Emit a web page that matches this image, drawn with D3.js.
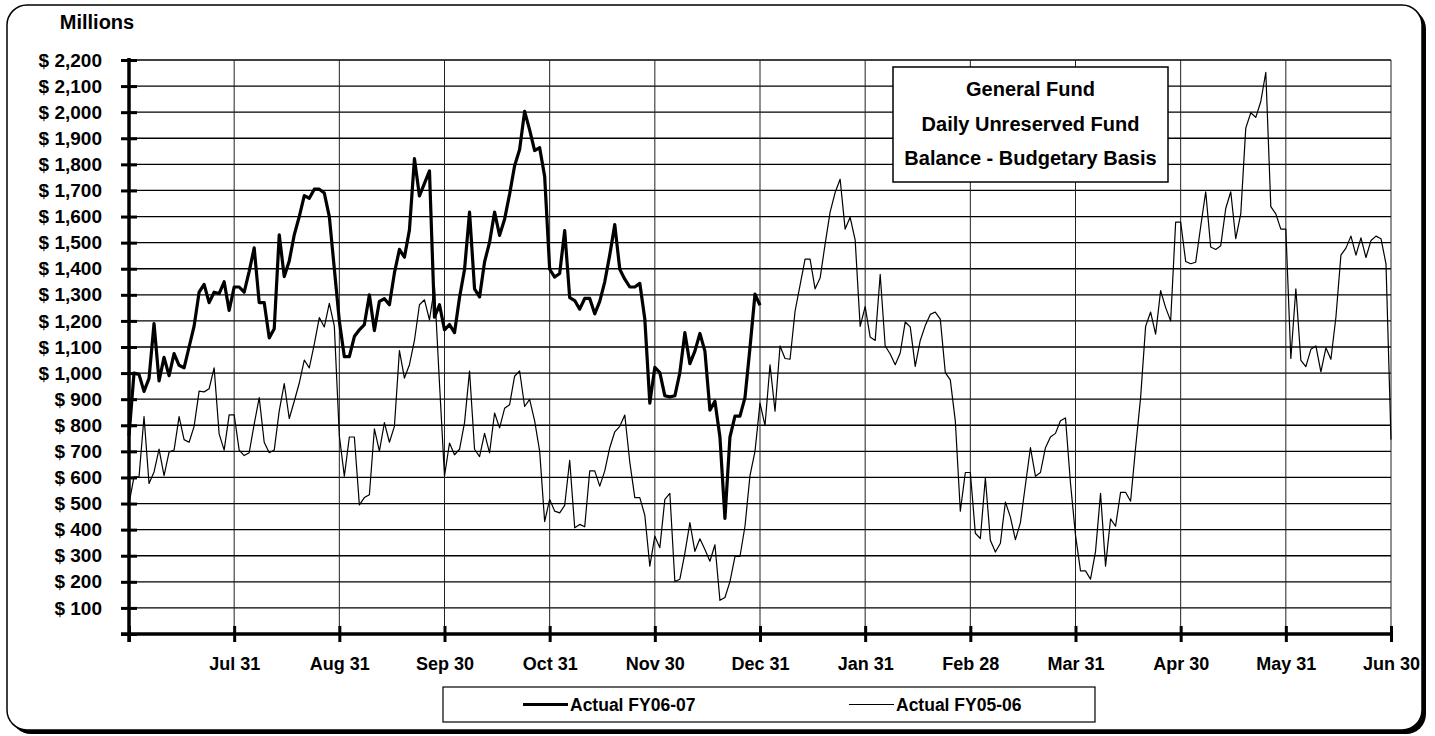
<!DOCTYPE html>
<html>
<head>
<meta charset="utf-8">
<script src="https://cdn.jsdelivr.net/npm/d3@7"></script>
<style>
  body { margin: 0; background: #fff; }
  text { font-family: "Liberation Sans Narrow", "Arial Narrow", "Liberation Sans", Arial, sans-serif; font-weight: bold; fill: #000; }
</style>
</head>
<body>
<div id="wrapper"></div>
<script>
// month-end labels, one tick every 21 business days
const monthLabels = ["", "Jul 31", "Aug 31", "Sep 30", "Oct 31", "Nov 30", "Dec 31",
  "Jan 31", "Feb 28", "Mar 31", "Apr 30", "May 31", "Jun 30"]
const daysPerMonth = 21

const yTicks = d3.range(0, 2201, 100)

const titleLines = ["General Fund", "Daily Unreserved Fund", "Balance - Budgetary Basis"]
const seriesNames = ["Actual FY06-07", "Actual FY05-06"]

// daily balances, $ millions
const fy0607 = [
  760, 1000, 995, 930, 980, 1190, 970, 1060, 990, 1075, 1030, 1020, 1100, 1180, 1310, 1340, 1270, 1310, 1305, 1350, 1240, 1330, // jul
  1330, 1310, 1390, 1480, 1270, 1270, 1135, 1170, 1530, 1370, 1430, 1530, 1600, 1680, 1670, 1705, 1705, 1690, 1600, 1400, 1200, // aug
  1063, 1063, 1140, 1166, 1186, 1300, 1163, 1275, 1285, 1262, 1384, 1474, 1444, 1549, 1822, 1679, 1727, 1775, 1214, 1262, 1166, // sep
  1186, 1155, 1290, 1397, 1617, 1323, 1292, 1426, 1501, 1617, 1528, 1590, 1686, 1795, 1857, 2003, 1932, 1853, 1864, 1754, 1398, // oct
  1368, 1382, 1546, 1289, 1278, 1245, 1286, 1286, 1227, 1275, 1350, 1453, 1569, 1398, 1360, 1330, 1330, 1344, 1207, 885, 1022, // nov
  1002, 913, 909, 913, 1002, 1155, 1036, 1084, 1152, 1084, 858, 892, 755, 443, 755, 835, 835, 906, 1097, 1303, 1260 // dec
]

const fy0506 = [
  500, 602, 602, 833, 577, 621, 709, 607, 697, 705, 833, 745, 735, 796, 931, 928, 940, 1020, 767, 705, 840, 840, // jul
  705, 684, 695, 804, 906, 735, 695, 705, 855, 960, 826, 892, 962, 1050, 1020, 1111, 1213, 1177, 1267, 1180, 760, // aug
  605, 755, 755, 495, 523, 534, 786, 701, 810, 735, 796, 1086, 981, 1032, 1125, 1262, 1281, 1204, 1330, 960, 605, // sep
  732, 687, 708, 810, 1008, 708, 680, 769, 694, 847, 790, 865, 879, 988, 1008, 872, 899, 817, 701, 431, 516, // oct
  471, 464, 493, 666, 407, 420, 411, 625, 625, 567, 625, 714, 775, 796, 839, 659, 523, 523, 455, 260, 375, // nov
  331, 516, 539, 201, 210, 310, 427, 317, 365, 324, 279, 342, 129, 140, 201, 297, 297, 413, 607, 700, 885, // dec
  799, 1032, 854, 1104, 1056, 1053, 1237, 1337, 1437, 1437, 1323, 1364, 1494, 1617, 1692, 1743, 1552, 1597, 1511, 1179, 1255, // jan
  1138, 1125, 1378, 1104, 1073, 1032, 1077, 1196, 1177, 1026, 1125, 1182, 1225, 1234, 1207, 1002, 974, 817, 471, 619, 619, // feb
  386, 366, 598, 359, 314, 348, 506, 448, 362, 427, 571, 714, 605, 619, 714, 755, 769, 817, 828, 578, 379, // mar
  242, 242, 210, 317, 539, 260, 441, 413, 543, 543, 509, 714, 906, 1179, 1234, 1149, 1316, 1251, 1200, 1579, 1579, // apr
  1428, 1419, 1425, 1562, 1695, 1483, 1474, 1488, 1631, 1695, 1515, 1610, 1939, 1998, 1980, 2041, 2153, 1638, 1610, 1552, 1552, // may
  1056, 1323, 1049, 1025, 1091, 1104, 1005, 1097, 1053, 1214, 1452, 1479, 1525, 1452, 1518, 1443, 1508, 1525, 1515, 1419, 745 // jun
]

function drawChart() {
  const xAccessor = (d, i) => i
  const yAccessor = d => d

  let dimensions = {
    width: 1435,
    height: 736,
    margin: { top: 60, right: 44, bottom: 102, left: 129 },
  }
  dimensions.boundedWidth = dimensions.width - dimensions.margin.left - dimensions.margin.right
  dimensions.boundedHeight = dimensions.height - dimensions.margin.top - dimensions.margin.bottom

  const wrapper = d3.select("#wrapper")
    .append("svg")
      .attr("width", dimensions.width)
      .attr("height", dimensions.height)

  // frame with drop shadow
  wrapper.append("rect")
      .attr("x", 11).attr("y", 9)
      .attr("width", 1415).attr("height", 725)
      .attr("rx", 20)
      .attr("fill", "#000")
  wrapper.append("rect")
      .attr("x", 7).attr("y", 5)
      .attr("width", 1415).attr("height", 725)
      .attr("rx", 20)
      .attr("fill", "#fff")
      .attr("stroke", "#000")
      .attr("stroke-width", 1.5)

  const bounds = wrapper.append("g")
      .attr("transform", `translate(${dimensions.margin.left}, ${dimensions.margin.top})`)

  const nDays = daysPerMonth * 12
  const xScale = d3.scaleLinear()
      .domain([0, nDays])
      .range([0, dimensions.boundedWidth])

  const yScale = d3.scaleLinear()
      .domain([0, 2200])
      .range([dimensions.boundedHeight, 0])

  // gridlines
  bounds.append("g")
    .selectAll("line")
    .data(yTicks.filter(d => d > 0))
    .join("line")
      .attr("x1", 0)
      .attr("x2", dimensions.boundedWidth)
      .attr("y1", d => yScale(d))
      .attr("y2", d => yScale(d))
      .attr("stroke", "#000")
      .attr("stroke-width", 1.3)

  const monthTicks = monthLabels.map((d, i) => i * daysPerMonth)
  bounds.append("g")
    .selectAll("line")
    .data(monthTicks.filter(d => d > 0))
    .join("line")
      .attr("x1", d => xScale(d))
      .attr("x2", d => xScale(d))
      .attr("y1", 0)
      .attr("y2", dimensions.boundedHeight)
      .attr("stroke", "#222")
      .attr("stroke-width", 1)

  // axes
  const yAxisGenerator = d3.axisLeft(yScale)
      .tickValues(yTicks)
      .tickSize(8)
      .tickPadding(19)
      .tickFormat(d => d === 0 ? "" : "$ " + d3.format(",")(d))
  const yAxis = bounds.append("g").call(yAxisGenerator)
  yAxis.select(".domain").remove()
  yAxis.selectAll(".tick line")
      .attr("x1", -8).attr("x2", 8)
      .attr("stroke", "#000").attr("stroke-width", 3)
  yAxis.selectAll("text")
      .attr("font-size", 19)
      .attr("font-family", null)

  const xAxisGenerator = d3.axisBottom(xScale)
      .tickValues(monthTicks)
      .tickSize(8)
      .tickPadding(15)
      .tickFormat((d, i) => monthLabels[i])
  const xAxis = bounds.append("g")
      .attr("transform", `translate(0, ${dimensions.boundedHeight})`)
      .call(xAxisGenerator)
  xAxis.select(".domain").remove()
  xAxis.selectAll(".tick line")
      .attr("y1", -8).attr("y2", 8)
      .attr("stroke", "#000").attr("stroke-width", 3)
  xAxis.selectAll("text")
      .attr("font-size", 18)
      .attr("font-family", null)

  bounds.append("line")
      .attr("x1", -8).attr("x2", dimensions.boundedWidth + 2)
      .attr("y1", dimensions.boundedHeight).attr("y2", dimensions.boundedHeight)
      .attr("stroke", "#000").attr("stroke-width", 3.5)
  bounds.append("line")
      .attr("x1", 0).attr("x2", 0)
      .attr("y1", -2).attr("y2", dimensions.boundedHeight + 8)
      .attr("stroke", "#000").attr("stroke-width", 3.5)

  // lines
  const lineGenerator = d3.line()
      .x((d, i) => xScale(xAccessor(d, i)))
      .y(d => yScale(yAccessor(d)))

  bounds.append("path")
      .attr("d", lineGenerator(fy0506))
      .attr("fill", "none")
      .attr("stroke", "#000")
      .attr("stroke-width", 1.2)
      .attr("stroke-linejoin", "round")

  bounds.append("path")
      .attr("d", lineGenerator(fy0607))
      .attr("fill", "none")
      .attr("stroke", "#000")
      .attr("stroke-width", 3.2)
      .attr("stroke-linejoin", "round")

  // title box
  const titleBox = wrapper.append("g").attr("transform", "translate(893, 67)")
  titleBox.append("rect")
      .attr("width", 275).attr("height", 115)
      .attr("fill", "#fff").attr("stroke", "#000").attr("stroke-width", 1.5)
  titleBox.selectAll("text")
    .data(titleLines)
    .join("text")
      .attr("x", 137.5)
      .attr("y", (d, i) => 22 + i * 34.5)
      .attr("text-anchor", "middle")
      .attr("dominant-baseline", "central")
      .attr("font-size", 20)
      .text(d => d)

  // unit label
  wrapper.append("text")
      .attr("x", 97).attr("y", 22)
      .attr("text-anchor", "middle")
      .attr("dominant-baseline", "central")
      .attr("font-size", 20)
      .text("Millions")

  // legend
  const legend = wrapper.append("g").attr("transform", "translate(443, 687)")
  legend.append("rect")
      .attr("width", 652).attr("height", 35)
      .attr("fill", "#fff").attr("stroke", "#000").attr("stroke-width", 1.2)
  const legendItems = [
    { name: seriesNames[0], x: 80, w: 3.2 },
    { name: seriesNames[1], x: 406, w: 1.2 },
  ]
  const item = legend.selectAll("g")
    .data(legendItems)
    .join("g")
      .attr("transform", d => `translate(${d.x}, 17.5)`)
  item.append("line")
      .attr("x1", 0).attr("x2", 45)
      .attr("stroke", "#000")
      .attr("stroke-width", d => d.w)
  item.append("text")
      .attr("x", 47)
      .attr("dominant-baseline", "central")
      .attr("font-size", 17.5)
      .text(d => d.name)
}
drawChart()
</script>
</body>
</html>
